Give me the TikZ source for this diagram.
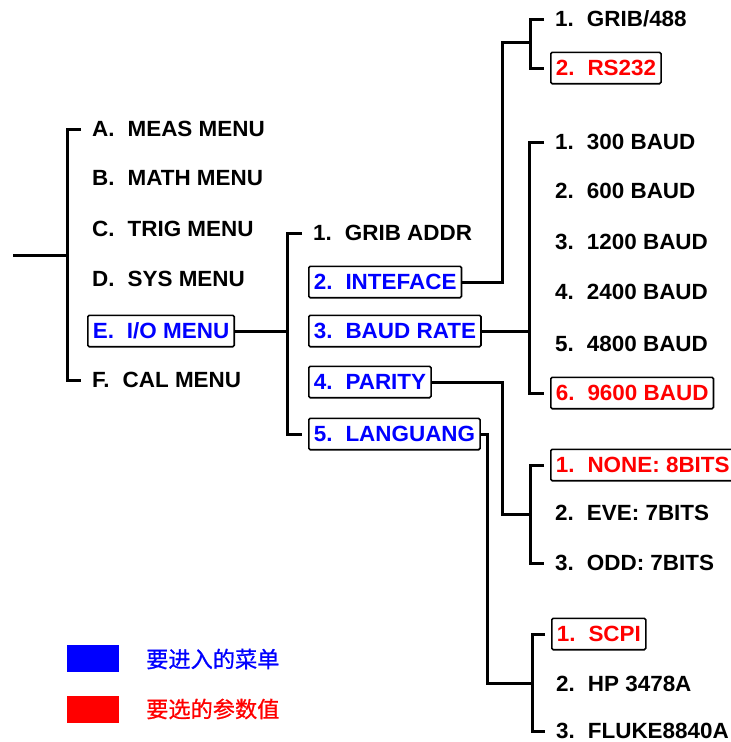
\documentclass[tikz,border=0pt]{standalone}
\usepackage{fontspec}
\setmainfont{Liberation Sans}[FakeStretch=1.02]
\newfontfamily\cjk{Noto Sans CJK SC}[FakeBold=0.8]
% space between an item's number and its label
\newcommand\itemgap{\hspace{13pt}}
\begin{document}
\begin{tikzpicture}[x=1pt,y=-1pt,
  item/.style={anchor=west, inner xsep=5pt, inner ysep=8pt, text height=15.4pt, text depth=0pt,
    font=\fontsize{22}{24}\selectfont\bfseries},
  sel/.style={item, draw=black, line width=1.6pt, rounded corners=1.5pt},
  enter/.style={sel, text=blue},
  pick/.style={sel, text=red},
  link/.style={line width=3pt},
  swatch/.style={minimum width=52pt, minimum height=27pt, inner sep=0pt},
  legtext/.style={anchor=west, inner sep=0pt, font=\cjk\fontsize{22.2}{24}\selectfont},
]
\useasboundingbox (0,0) rectangle (731,742);

% main menu
\node[item]  (m1) at (87,129) {A.\itemgap MEAS MENU};
\node[item]  (m2) at (87,178) {B.\itemgap MATH MENU};
\node[item]  (m3) at (87,229) {C.\itemgap TRIG MENU};
\node[item]  (m4) at (87,279) {D.\itemgap SYS MENU};
\node[enter] (m5) at (87,331) {E.\itemgap I/O MENU};
\node[item]  (m6) at (87,380) {F.\itemgap CAL MENU};

% I/O submenu
\node[item]  (s1) at (308,233) {1.\itemgap GRIB ADDR};
\node[enter] (s2) at (308,282) {2.\itemgap INTEFACE};
\node[enter] (s3) at (308,331) {3.\itemgap BAUD RATE};
\node[enter] (s4) at (308,382) {4.\itemgap PARITY};
\node[enter] (s5) at (308,434) {5.\itemgap LANGUANG};

% interface
\node[item] (i1) at (550,19) {1.\itemgap GRIB/488};
\node[pick] (i2) at (550,68) {2.\itemgap RS232};

% baud rate
\node[item] (b1) at (550,142) {1.\itemgap 300 BAUD};
\node[item] (b2) at (550,191) {2.\itemgap 600 BAUD};
\node[item] (b3) at (550,242) {3.\itemgap 1200 BAUD};
\node[item] (b4) at (550,292) {4.\itemgap 2400 BAUD};
\node[item] (b5) at (550,344) {5.\itemgap 4800 BAUD};
\node[pick] (b6) at (550,393) {6.\itemgap 9600 BAUD};

% parity
\node[pick] (p1) at (550,465) {1.\itemgap NONE: 8BITS};
\node[item] (p2) at (550,513) {2.\itemgap EVE: 7BITS};
\node[item] (p3) at (550,563) {3.\itemgap ODD: 7BITS};

% language
\node[pick] (l1) at (551,634) {1.\itemgap SCPI};
\node[item] (l2) at (551,684) {2.\itemgap HP 3478A};
\node[item] (l3) at (551,731) {3.\itemgap FLUKE8840A};

% junction points
\coordinate (root) at (13,255);
\coordinate (k1) at (67,255);
\coordinate (k2) at (287,331);
\coordinate (j2) at (502,42);
\coordinate (k3a) at (530,42);
\coordinate (k3b) at (529,331);
\coordinate (j4) at (502,514);
\coordinate (k3c) at (530,514);
\coordinate (j5) at (487,683);
\coordinate (k3d) at (532,683);

% connectors
\draw[link] (root) -- (k1);
\draw[link] ([xshift=-6pt]m1.west) -| (k1) |- ([xshift=-6pt]m6.west);

\draw[link] (m5.east) -- (k2);
\draw[link] ([xshift=-6pt]s1.west) -| (k2) |- ([xshift=-6pt]s5.west);

\draw[link] (s2.east) -| (j2) -- (k3a);
\draw[link] ([xshift=-6pt]i1.west) -| (k3a) |- ([xshift=-6pt]i2.west);

\draw[link] (s3.east) -- (k3b);
\draw[link] ([xshift=-6pt]b1.west) -| (k3b) |- ([xshift=-6pt]b6.west);

\draw[link] (s4.east) -| (j4) -- (k3c);
\draw[link] ([xshift=-6pt]p1.west) -| (k3c) |- ([xshift=-6pt]p3.west);

\draw[link] (s5.east) -| (j5) -- (k3d);
\draw[link] ([xshift=-6pt]l1.west) -| (k3d) |- ([xshift=-6pt]l3.west);

% legend
\node[swatch, fill=blue] (legblue) at (93,658.5) {};
\node[swatch, fill=red]  (legred)  at (93,709.5) {};
\node[legtext, text=blue] (legbluet) at (146,659) {要进入的菜单};
\node[legtext, text=red]  (legredt)  at (146,709) {要选的参数值};
\end{tikzpicture}
\end{document}
